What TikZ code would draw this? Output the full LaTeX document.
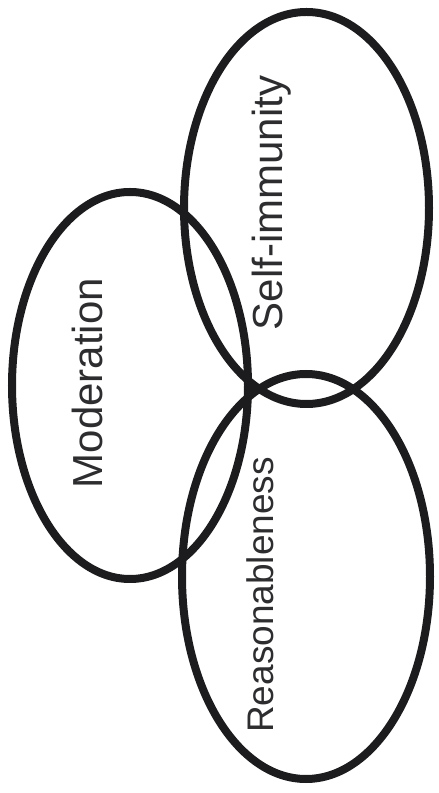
\documentclass[tikz,border=0pt]{standalone}
\usepackage{fontspec}
\setmainfont{Liberation Sans}
\usepackage{tikz}
\definecolor{inkline}{RGB}{28,28,30}
\definecolor{inktext}{RGB}{45,45,48}

\begin{document}
\begin{tikzpicture}[x=1pt, y=1pt,
      ring/.style={draw=inkline, line width=8pt},
      lbl/.style={rotate=90, anchor=base, inner sep=0pt, text=inktext},
      big/.style={font=\fontsize{42}{48}\selectfont},
      mid/.style={font=\fontsize{37}{44}\selectfont}]
    \useasboundingbox (0,0) rectangle (439,793);
    % the three rings
    \draw[ring] (130,407.5) ellipse [x radius=118, y radius=193.5];
    \draw[ring] (306.5,585) ellipse [x radius=122.5, y radius=196];
    \draw[ring] (306,216.5) ellipse [x radius=124, y radius=202.5];
    % labels
    \node[lbl, big] (mod) at (102,410) {Moderation};
    \node[lbl, big] (self) at (282,590) {Self-immunity};
    \node[lbl, mid] (reas) at (273,198) {Reasonableness};
  \end{tikzpicture}
\end{document}
